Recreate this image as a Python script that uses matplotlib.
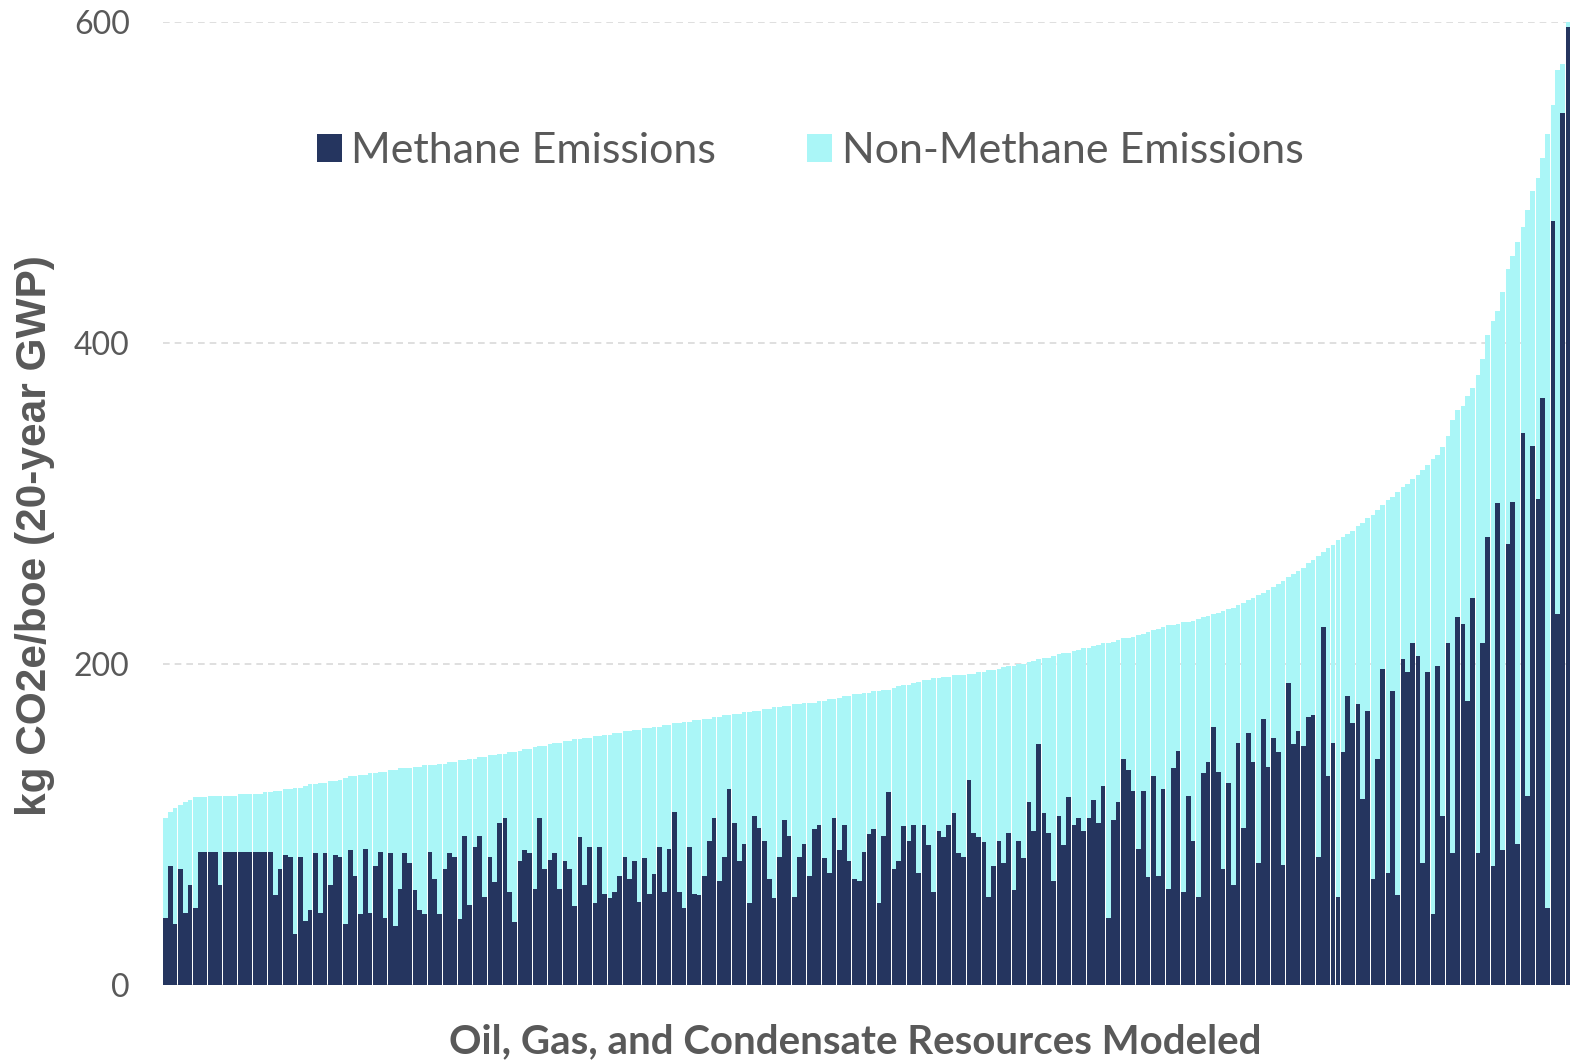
import matplotlib
matplotlib.use('Agg')
import matplotlib.pyplot as plt
import numpy as np

# total emissions per resource (kg CO2e/boe, 20-year GWP), sorted ascending
total = [
    104, 108, 110, 112, 114, 115, 117, 117, 117, 118, 118, 118, 118, 118, 118, 119, 119, 119, 119, 119,
    120, 120, 121, 121, 122, 122, 123, 123, 124, 125, 125, 126, 126, 127, 127, 128, 129, 130, 130, 131,
    131, 132, 132, 133, 133, 134, 134, 135, 135, 135, 136, 136, 137, 137, 137, 138, 138, 139, 139, 140,
    140, 141, 141, 142, 142, 143, 143, 144, 144, 145, 145, 146, 147, 147, 148, 149, 149, 150, 151, 151,
    152, 152, 153, 153, 154, 154, 155, 155, 156, 156, 157, 157, 158, 158, 159, 159, 160, 160, 161, 161,
    162, 162, 163, 163, 164, 164, 165, 165, 166, 166, 167, 167, 168, 168, 169, 169, 170, 170, 171, 171,
    172, 172, 173, 173, 174, 174, 175, 175, 176, 176, 176, 177, 177, 178, 178, 179, 180, 180, 181, 181,
    182, 182, 183, 183, 184, 184, 185, 186, 187, 187, 188, 189, 190, 190, 191, 191, 192, 192, 193, 193,
    193, 194, 194, 195, 195, 196, 196, 197, 198, 199, 199, 200, 200, 201, 202, 203, 204, 204, 205, 206,
    207, 207, 208, 209, 210, 210, 211, 212, 213, 213, 214, 215, 216, 216, 217, 218, 219, 220, 221, 222,
    223, 224, 224, 225, 226, 226, 227, 228, 229, 230, 231, 232, 233, 234, 235, 237, 238, 240, 241, 243,
    244, 246, 248, 250, 252, 254, 256, 258, 260, 263, 265, 267, 270, 272, 274, 277, 279, 281, 283, 286,
    288, 291, 293, 296, 299, 302, 304, 307, 310, 312, 315, 318, 321, 324, 328, 330, 335, 342, 352, 358,
    361, 367, 372, 380, 390, 405, 414, 420, 432, 446, 454, 463, 472, 483, 495, 503, 515, 530, 548, 570,
    574, 610,
]

# methane part of each resource
methane = [
    42, 74, 38, 72, 45, 62, 48, 83, 83, 83, 83, 62, 83, 83, 83, 83, 83, 83, 83, 83,
    83, 83, 56, 72, 81, 80, 32, 80, 40, 47, 82, 45, 82, 62, 81, 80, 38, 84, 68, 44,
    85, 45, 74, 83, 42, 82, 37, 60, 82, 76, 59, 47, 44, 83, 66, 44, 72, 82, 80, 41,
    93, 50, 86, 93, 55, 80, 64, 101, 104, 58, 39, 77, 84, 82, 60, 104, 72, 78, 82, 60,
    77, 72, 49, 92, 62, 86, 51, 86, 57, 54, 58, 68, 80, 66, 77, 52, 79, 57, 69, 86,
    58, 85, 108, 58, 48, 86, 57, 56, 68, 90, 104, 65, 80, 122, 101, 77, 88, 51, 105, 98,
    90, 66, 54, 80, 103, 93, 55, 80, 88, 68, 97, 100, 79, 70, 104, 84, 100, 77, 66, 65,
    83, 94, 97, 51, 93, 120, 72, 77, 99, 90, 100, 70, 100, 87, 58, 96, 92, 100, 107, 82,
    80, 128, 95, 92, 89, 55, 74, 90, 76, 95, 59, 90, 79, 114, 96, 150, 107, 95, 65, 105,
    87, 117, 100, 104, 96, 104, 115, 101, 124, 42, 103, 114, 141, 134, 121, 85, 121, 67, 130, 68,
    122, 60, 135, 146, 58, 118, 90, 55, 132, 139, 161, 133, 72, 126, 62, 151, 98, 157, 139, 76,
    166, 136, 154, 145, 75, 188, 150, 158, 149, 167, 168, 80, 223, 130, 151, 55, 145, 180, 163, 175,
    116, 171, 66, 141, 197, 70, 183, 56, 203, 195, 213, 205, 76, 195, 44, 199, 105, 213, 82, 229,
    225, 177, 241, 82, 213, 279, 74, 300, 84, 275, 301, 88, 344, 118, 336, 303, 366, 48, 476, 231,
    543, 597,
]

series_names = ['Methane Emissions', 'Non-Methane Emissions']
y_ticks = [0, 200, 400, 600]

DARK = '#25355F'
LIGHT = '#AAF6F7'
GREY = '#595959'

total = np.array(total, dtype=float)
methane = np.array(methane, dtype=float)
non_methane = total - methane
x = np.arange(len(total))
# thin white seam after every third bar, like the original export
widths = np.where(x % 3 == 2, 0.8, 1.0)

fig = plt.figure(figsize=(15.78, 10.61), dpi=100)
ax = fig.add_axes([163 / 1578, 1 - 985 / 1061, 1407 / 1578, 963 / 1061])

ax.bar(x, methane, width=widths, color=DARK, linewidth=0, label=series_names[0])
ax.bar(x, non_methane, bottom=methane, width=widths, color=LIGHT, linewidth=0, label=series_names[1])

ax.set_xlim(-0.5, len(total) - 0.5)
ax.set_ylim(0, 600)
ax.set_yticks(y_ticks)
ax.set_xticks([])
ax.grid(axis='y', color='#D9D9D9', linestyle=(0, (4, 3)), linewidth=1.2)
ax.set_axisbelow(True)
for s in ax.spines.values():
    s.set_visible(False)
ax.tick_params(axis='y', length=0, pad=24, labelsize=23, labelcolor=GREY)
for lab in ax.get_yticklabels():
    lab.set_family('Lato')

ax.set_ylabel('kg CO2e/boe (20-year GWP)', fontsize=30.5, fontweight='bold', color=GREY,
              family='Liberation Sans')
ax.yaxis.set_label_coords(-0.077, 0.467)
ax.set_xlabel('Oil, Gas, and Condensate Resources Modeled', fontsize=29, fontweight='bold',
              color=GREY, family='Lato')
ax.xaxis.set_label_coords(0.492, -0.040)

leg = ax.legend(loc='center', bbox_to_anchor=(0.4598, 0.866), ncol=2, frameon=False,
                prop={'family': 'Lato', 'size': 31},
                handlelength=0.58, handleheight=0.63, handletextpad=0.23, columnspacing=2.1)
for t in leg.get_texts():
    t.set_color(GREY)

fig.savefig('out.png', dpi=100)
